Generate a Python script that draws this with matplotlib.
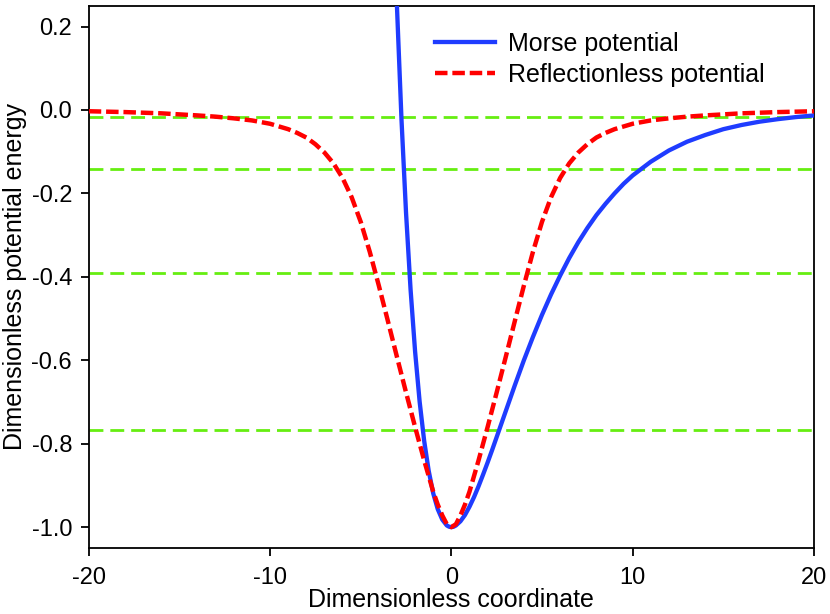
import matplotlib
matplotlib.use('Agg')
import matplotlib.pyplot as plt
from matplotlib.ticker import FormatStrFormatter

plt.rcParams.update({
    'font.family': ['Liberation Sans', 'DejaVu Sans'],
    'axes.unicode_minus': False,
    'lines.scale_dashes': False,
})

# Morse potential
morse_x = [-3.2, -3.0, -2.75, -2.5, -2.25, -2.0, -1.75, -1.5, -1.25, -1.0,
           -0.75, -0.5, -0.25, -0.125, 0, 0.125, 0.25, 0.5, 0.75, 1, 1.25,
           1.5, 1.75, 2, 2.25, 2.5, 2.75, 3, 3.25, 3.5, 4, 4.5, 5, 5.5, 6,
           6.5, 7, 7.5, 8, 8.5, 9, 9.5, 10, 11, 12, 13, 14, 15, 16, 17, 18,
           19, 20]
morse_y = [0.502, 0.248, -0.023, -0.246, -0.430, -0.579, -0.699, -0.793,
           -0.865, -0.919, -0.957, -0.982, -0.996, -0.999, -1.000, -0.999,
           -0.996, -0.986, -0.971, -0.951, -0.928, -0.902, -0.874, -0.845,
           -0.815, -0.784, -0.753, -0.722, -0.691, -0.660, -0.600, -0.544,
           -0.491, -0.442, -0.397, -0.355, -0.317, -0.283, -0.252, -0.225,
           -0.200, -0.177, -0.157, -0.124, -0.097, -0.076, -0.060, -0.046,
           -0.036, -0.028, -0.022, -0.017, -0.013]

# Reflectionless potential
refl_x = [-20, -18, -16, -14, -13, -12, -11, -10, -9, -8.5, -8, -7.5, -7,
          -6.5, -6, -5.5, -5, -4.5, -4, -3.5, -3, -2.5, -2, -1.5, -1, -0.75,
          -0.5, -0.25, 0, 0.25, 0.5, 0.75, 1, 1.5, 2, 2.5, 3, 3.5, 4, 4.5, 5,
          5.5, 6, 6.5, 7, 7.5, 8, 8.5, 9, 10, 11, 12, 13, 14, 16, 18, 20]
refl_y = [-0.003, -0.005, -0.008, -0.013, -0.016, -0.020, -0.025, -0.033,
          -0.046, -0.055, -0.066, -0.082, -0.102, -0.128, -0.163, -0.209,
          -0.268, -0.340, -0.421, -0.506, -0.592, -0.677, -0.760, -0.840,
          -0.915, -0.946, -0.972, -0.993, -1.000, -0.993, -0.972, -0.946,
          -0.915, -0.840, -0.760, -0.677, -0.592, -0.506, -0.421, -0.340,
          -0.268, -0.209, -0.163, -0.128, -0.102, -0.082, -0.066, -0.055,
          -0.046, -0.033, -0.025, -0.020, -0.016, -0.013, -0.008, -0.005,
          -0.003]

# bound-state energy levels (green dashed)
levels = [-0.766, -0.391, -0.141, -0.016]

xticks = [-20, -10, 0, 10, 20]
yticks = [-1.0, -0.8, -0.6, -0.4, -0.2, 0.0, 0.2]

fig = plt.figure(figsize=(8.3, 6.14), dpi=100)
ax = fig.add_axes([0.1069, 0.1075, 0.8738, 0.8832])

for lv in levels:
    ax.axhline(lv, color='#66ee11', lw=2.0, dashes=(10, 5), zorder=1)

ax.plot(morse_x, morse_y, color='#1f3cff', lw=3.1, label='Morse potential', zorder=3)
ax.plot(refl_x, refl_y, color='#ff0000', lw=3.2, dashes=(9, 3.5),
        label='Reflectionless potential', zorder=4)

ax.set_xlim(-20, 20)
ax.set_ylim(-1.05, 0.25)
ax.set_xticks(xticks)
ax.set_yticks(yticks)
ax.yaxis.set_major_formatter(FormatStrFormatter('%.1f'))
ax.tick_params(direction='out', length=6, width=1.3, labelsize=17, pad=6)
ax.tick_params(axis='x', pad=8)
for s in ax.spines.values():
    s.set_linewidth(1.3)

ax.set_xlabel('Dimensionless coordinate', fontsize=18, labelpad=-1)
ax.set_ylabel('Dimensionless potential energy', fontsize=18, labelpad=3)

ax.legend(loc='upper left', bbox_to_anchor=(0.4775, 0.952), frameon=False,
          fontsize=18, handlelength=2.4, handletextpad=0.5, borderpad=0,
          borderaxespad=0, labelspacing=0.3)

fig.savefig('out.png', dpi=100)
